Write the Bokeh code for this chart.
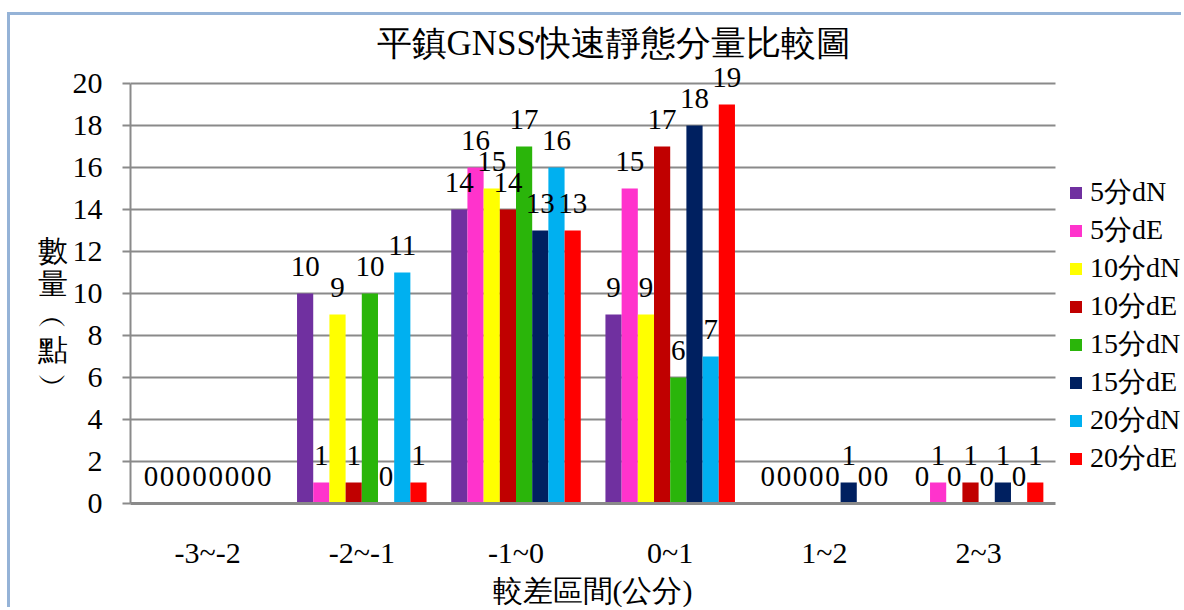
from bokeh.plotting import figure
from bokeh.models import (ColumnDataSource, Range1d, LabelSet, Legend, LegendItem,
                          FixedTicker, Title)
from bokeh.transform import dodge
from bokeh.embed import file_html
from bokeh.resources import INLINE

# ---- data ----
categories = ["-3~-2", "-2~-1", "-1~0", "0~1", "1~2", "2~3"]
series_names = ["5分dN", "5分dE", "10分dN", "10分dE", "15分dN", "15分dE", "20分dN", "20分dE"]
s5_dN = [0, 10, 14, 9, 0, 0]
s5_dE = [0, 1, 16, 15, 0, 1]
s10_dN = [0, 9, 15, 9, 0, 0]
s10_dE = [0, 1, 14, 17, 0, 1]
s15_dN = [0, 10, 17, 6, 0, 0]
s15_dE = [0, 0, 13, 18, 1, 1]
s20_dN = [0, 11, 16, 7, 0, 0]
s20_dE = [0, 1, 13, 19, 0, 1]
series_values = [s5_dN, s5_dE, s10_dN, s10_dE, s15_dN, s15_dE, s20_dN, s20_dE]
y_ticks = [0, 2, 4, 6, 8, 10, 12, 14, 16, 18, 20]

title_text = "平鎮GNSS快速靜態分量比較圖"
x_label = "較差區間(公分)"
y_label = "\u3000\n\u3000\n數\n量\n︵\n點\n︶"

colors = ["#7030a0", "#ff33cc", "#ffff00", "#c00000", "#2ab50a", "#002060", "#00b0f0", "#ff0000"]

SERIF = "Liberation Serif"
GRAY = "#8a8a8a"

# layout (pixels): frame runs to the right edge so the legend can live inside it
PX_PER_CAT = 154.2
FRAME_W = 1054
pos = list(range(len(categories)))
x_lo = pos[0] - 0.5
x_hi_axis = pos[-1] + 0.5
x_end = x_lo + FRAME_W / PX_PER_CAT

p = figure(x_range=Range1d(x_lo, x_end), y_range=Range1d(0, 21),
           width=1174, height=595, output_backend="svg", toolbar_location=None,
           min_border_left=120, min_border_right=0, min_border_top=47, min_border_bottom=107)
p.styles = {"border-left": "3px solid #95b3d7", "border-top": "3px solid #95b3d7",
            "margin-left": "7px", "margin-top": "12px"}
p.outline_line_color = None
p.xgrid.grid_line_color = None

if "cross_bounds" in p.ygrid[0].properties():
    p.ygrid.cross_bounds = (x_lo, x_hi_axis)
    p.ygrid.grid_line_color = GRAY
    p.ygrid.grid_line_width = 2
else:
    p.ygrid.grid_line_color = None
    p.segment(x0=[x_lo] * len(y_ticks), x1=[x_hi_axis] * len(y_ticks), y0=y_ticks, y1=y_ticks,
              line_color=GRAY, line_width=2, level="underlay")

p.title.text = title_text
p.title.align = "left"
p.title.offset = 246
p.title.standoff = 0
p.title.text_font = SERIF
p.title.text_font_size = "35px"
p.title.text_font_style = "normal"
p.title.text_color = "black"

p.yaxis.ticker = FixedTicker(ticks=y_ticks)
p.yaxis.bounds = (0, 20)
p.yaxis.axis_line_color = GRAY
p.yaxis.axis_line_width = 2
p.yaxis.major_tick_line_color = GRAY
p.yaxis.major_tick_line_width = 2
p.yaxis.major_tick_out = 8
p.yaxis.major_tick_in = 0
p.yaxis.minor_tick_line_color = None
p.yaxis.major_label_text_font = SERIF
p.yaxis.major_label_text_font_size = "30px"
p.yaxis.major_label_text_color = "black"
p.yaxis.major_label_standoff = 20
p.yaxis.axis_label = y_label
p.yaxis.axis_label_text_font = SERIF
p.yaxis.axis_label_text_font_size = "30px"
p.yaxis.axis_label_text_font_style = "normal"
p.yaxis.axis_label_text_color = "black"
p.yaxis.axis_label_standoff = 2
p.yaxis.axis_label_text_line_height = 1.0
if "axis_label_orientation" in p.yaxis[0].properties():
    p.yaxis.axis_label_orientation = "horizontal"

p.xaxis.ticker = FixedTicker(ticks=pos)
p.xaxis.major_label_overrides = {i: c for i, c in zip(pos, categories)}
p.xaxis.bounds = (x_lo, x_hi_axis)
p.xaxis.axis_line_color = GRAY
p.xaxis.axis_line_width = 3
p.xaxis.major_tick_line_color = None
p.xaxis.minor_tick_line_color = None
p.xaxis.major_label_text_font = SERIF
p.xaxis.major_label_text_font_size = "30px"
p.xaxis.major_label_text_color = "black"
p.xaxis.major_label_standoff = 26

p.add_layout(Title(text=x_label, align="left", offset=362, standoff=0,
                   text_font=SERIF, text_font_size="30px", text_font_style="normal",
                   text_color="black"), "below")

n = len(series_names)
bw = 0.105
items = []
for i, (name, vals, col) in enumerate(zip(series_names, series_values, colors)):
    off = -bw * (n - 1) / 2 + bw * i
    src = ColumnDataSource(dict(pos=pos, val=vals, lbl=[str(v) for v in vals]))
    r = p.vbar(x=dodge("pos", off), top="val", width=bw, source=src,
               fill_color=col, line_color=None)
    items.append(LegendItem(label=name, renderers=[r]))
    p.add_layout(LabelSet(x=dodge("pos", off), y="val", text="lbl", source=src,
                          y_offset=18, text_align="center", text_baseline="alphabetic",
                          text_font=SERIF, text_font_size="29px", text_color="black"))

legend = Legend(items=items, location=(938, 26), border_line_color=None,
                background_fill_alpha=0, padding=0, margin=0, spacing=0,
                label_height=29, glyph_height=15, glyph_width=15, label_standoff=7,
                label_text_font=SERIF, label_text_font_size="28px", label_text_color="black")
p.add_layout(legend, "center")

open("out.html", "w").write(file_html(p, INLINE))
